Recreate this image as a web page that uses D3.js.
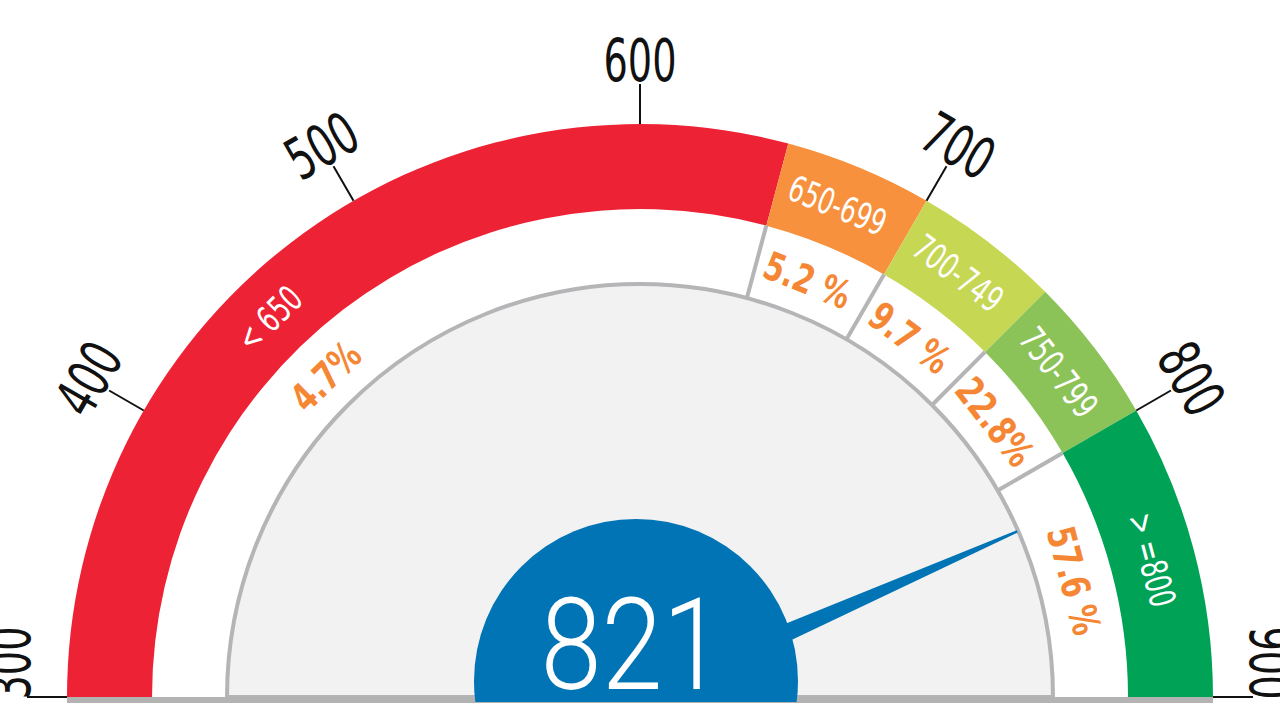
<!DOCTYPE html>
<html>
<head>
<meta charset="utf-8">
<script src="https://cdn.jsdelivr.net/npm/d3@7"></script>
<style>
  html, body { margin: 0; padding: 0; background: #ffffff; }
  svg { display: block; }
  .cond { font-family: "DejaVu Sans", sans-serif; }
</style>
</head>
<body>
<svg id="chart" width="1280" height="720"></svg>
<script>
// ---- data ----
const bandLabels   = ["< 650", "650-699", "700-749", "750-799", "> =800"];
const bandStarts   = [300, 650, 700, 750, 800];
const bandEnds     = [650, 700, 750, 800, 900];
const bandColors   = ["#ee2235", "#f7913d", "#c6d754", "#8cc358", "#00a355"];
const shareLabels  = ["4.7%", "5.2 %", "9.7 %", "22.8%", "57.6 %"];
const labelValues  = [452, 673, 723, 774, 850];
const tickValues   = [300, 400, 500, 600, 700, 800, 900];
const score        = 821;

// ---- layout ----
const W = 1280, H = 720;
const cx = 640, cy = 697;
const rOut = 573, rIn = 488, rGray = 413;

const svg = d3.select("#chart");
const g = svg.append("g").attr("transform", `translate(${cx},${cy})`);

const angle = d3.scaleLinear().domain([300, 900]).range([-Math.PI / 2, Math.PI / 2]);
const deg = v => angle(v) * 180 / Math.PI;
const px = (v, r) => r * Math.sin(angle(v));
const py = (v, r) => -r * Math.cos(angle(v));

const bands = bandStarts.map((s, i) => ({ s, e: bandEnds[i], color: bandColors[i], label: bandLabels[i], share: shareLabels[i], at: labelValues[i] }));

// inner gray disc
g.append("path")
  .attr("d", d3.arc()({ innerRadius: 0, outerRadius: rGray, startAngle: angle(300), endAngle: angle(900) }))
  .attr("fill", "#f2f2f2")
  .attr("stroke", "#b5b5b7")
  .attr("stroke-width", 4);

// coloured band
const arcBand = d3.arc().innerRadius(rIn).outerRadius(rOut);
g.selectAll("path.band").data(bands).join("path")
  .attr("class", "band")
  .attr("d", d => arcBand({ startAngle: angle(d.s), endAngle: angle(d.e) }))
  .attr("fill", d => d.color);

// dividers in white ring
g.selectAll("line.div").data(bandStarts.slice(1)).join("line")
  .attr("class", "div")
  .attr("x1", v => px(v, rGray)).attr("y1", v => py(v, rGray))
  .attr("x2", v => px(v, rIn)).attr("y2", v => py(v, rIn))
  .attr("stroke", "#b5b5b7").attr("stroke-width", 4);

// baseline
g.append("line")
  .attr("x1", px(300, rOut)).attr("x2", px(900, rOut))
  .attr("y1", 3).attr("y2", 3)
  .attr("stroke", "#b3b3b3").attr("stroke-width", 6);

// ticks
g.selectAll("line.tick").data(tickValues).join("line")
  .attr("class", "tick")
  .attr("x1", v => px(v, rOut)).attr("y1", v => py(v, rOut))
  .attr("x2", v => px(v, rOut + 40)).attr("y2", v => py(v, rOut + 40))
  .attr("stroke", "#111").attr("stroke-width", 2);

// labels at the two ends are pushed up so they sit above the baseline
const halfLabel = 34;
const isEnd = v => Math.abs(Math.sin(angle(v))) > 0.99;
const labelR = v => isEnd(v) ? rOut + 37 : rOut + 43;
const tickShift = v => isEnd(v) ? -Math.max(0, py(v, rOut + 40) + halfLabel) : 0;
g.selectAll("text.tickLabel").data(tickValues).join("text")
  .attr("class", "tickLabel cond")
  .attr("transform", v => `translate(${px(v, labelR(v))},${py(v, labelR(v)) + tickShift(v)}) rotate(${deg(v)}) scale(0.66,1)`)
  .attr("text-anchor", "middle")
  .attr("font-size", 58)
  .attr("fill", "#111")
  .text(v => v);

// band labels
g.selectAll("text.bandLabel").data(bands).join("text")
  .attr("class", "bandLabel cond")
  .attr("transform", d => `translate(${px(d.at, 530)},${py(d.at, 530)}) rotate(${deg(d.at)}) scale(0.68,1)`)
  .attr("text-anchor", "middle")
  .attr("dominant-baseline", "central")
  .attr("font-size", 36)
  .attr("fill", "#ffffff")
  .text(d => d.label);

// share labels
g.selectAll("text.share").data(bands).join("text")
  .attr("class", "share cond")
  .attr("transform", d => `translate(${px(d.at, 449)},${py(d.at, 449)}) rotate(${deg(d.at)}) scale(0.74,1)`)
  .attr("text-anchor", "middle")
  .attr("dominant-baseline", "central")
  .attr("font-size", 39)
  .attr("font-weight", "bold")
  .attr("fill", "#f58634")
  .text(d => d.share);

// needle
const a = angle(score);
const tipR = rGray - 1, baseHalf = 13.5;
const needle = [
  [baseHalf * Math.cos(a), baseHalf * Math.sin(a)],
  [px(score, tipR) + 1.2 * Math.cos(a), py(score, tipR) + 1.2 * Math.sin(a)],
  [px(score, tipR) - 1.2 * Math.cos(a), py(score, tipR) - 1.2 * Math.sin(a)],
  [-baseHalf * Math.cos(a), -baseHalf * Math.sin(a)]
];
svg.append("clipPath").attr("id", "clipBottom")
  .append("rect").attr("x", 0).attr("y", 0).attr("width", W).attr("height", cy + 5);

const blue = svg.append("g").attr("clip-path", "url(#clipBottom)");
blue.append("path")
  .attr("transform", `translate(${cx},${cy})`)
  .attr("d", d3.line()(needle) + "Z")
  .attr("fill", "#0074b4");
blue.append("circle")
  .attr("cx", cx - 4).attr("cy", cy - 16).attr("r", 162)
  .attr("fill", "#0074b4");

svg.append("text")
  .attr("transform", `translate(${cx - 8},689) scale(0.86,1)`)
  .attr("text-anchor", "middle")
  .attr("font-family", "Roboto, 'DejaVu Sans', sans-serif")
  .attr("font-weight", 300)
  .attr("font-size", 128)
  .attr("fill", "#ffffff")
  .text(score);
</script>
</body>
</html>
